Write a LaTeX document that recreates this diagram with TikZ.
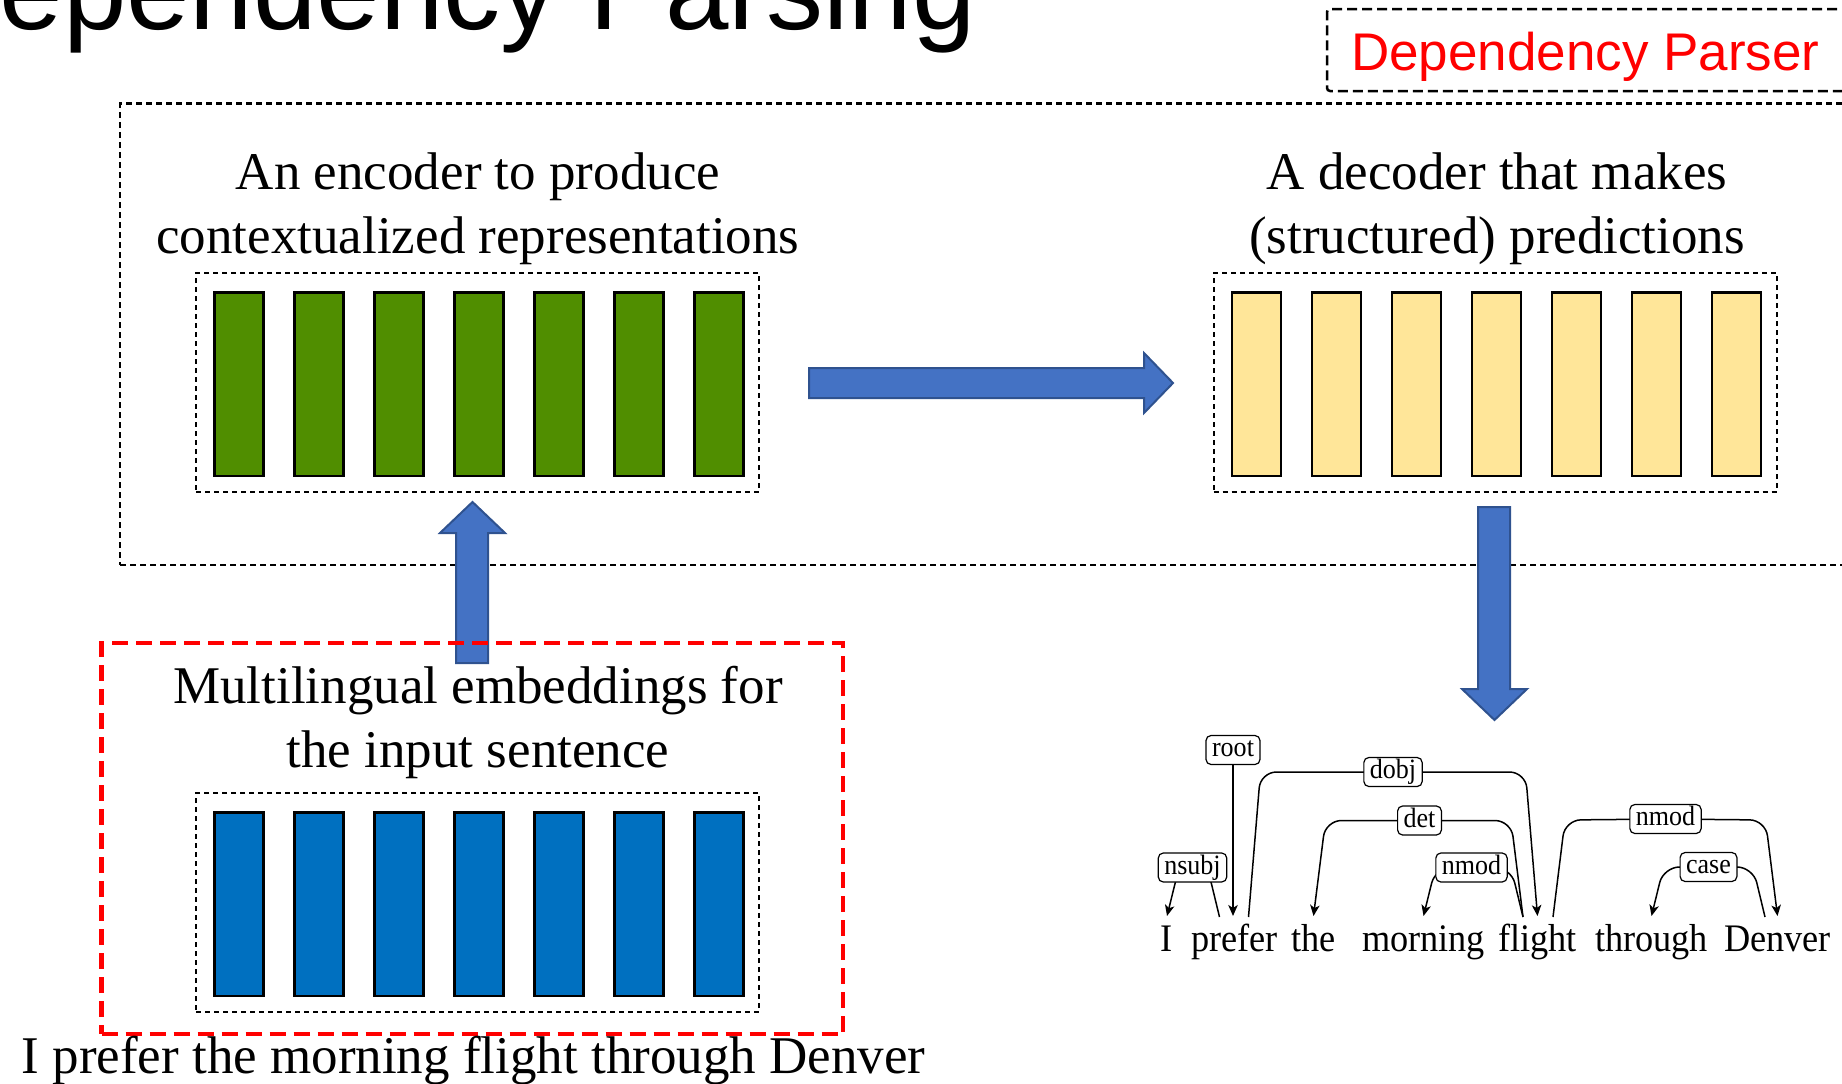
\documentclass[tikz,border=0pt]{standalone}
\usepackage{fontspec}
\setmainfont{Liberation Serif}
\newfontfamily\sansf{Liberation Sans}
\newfontfamily\depfont{Liberation Serif}[FakeStretch=0.93]
\usetikzlibrary{arrows.meta,calc,backgrounds}
\definecolor{encgreen}{RGB}{80,142,0}
\definecolor{decyellow}{RGB}{255,230,153}
\definecolor{embblue}{RGB}{0,112,192}
\definecolor{arrowfill}{RGB}{68,114,196}
\definecolor{arrowline}{RGB}{47,82,143}
\begin{document}
\begin{tikzpicture}[x=1pt,y=-1pt,
  txt/.style={font=\fontsize{53}{63.5}\selectfont, align=center, inner sep=0pt},
  cont/.style={draw=black, line width=2pt, dash pattern=on 5pt off 4pt, minimum width=563pt, minimum height=219pt, inner sep=0pt},
  vbar/.style={draw=black, line width=2.5pt, minimum width=49pt, minimum height=183.5pt, inner sep=0pt, anchor=north west},
  blockarrow/.style={fill=arrowfill, draw=arrowline, line width=2pt, line join=miter},
  word/.style={font=\depfont\fontsize{39}{40}\selectfont, anchor=base, inner sep=0pt},
  deplabel/.style={draw=black, line width=1.2pt, rounded corners=5pt, fill=white, font=\depfont\fontsize{28}{30}\selectfont, inner xsep=6pt, inner ysep=2pt, text height=19pt, text depth=6pt},
  depedge/.style={line width=1.5pt, rounded corners=16pt},
  deparrow/.style={depedge, -{Stealth[length=11pt,width=9.5pt,inset=3pt]}}
]
\useasboundingbox (0,0) rectangle (1842,1084);

% title (partly outside the page, as in the slide)
\node[font=\sansf\fontsize{114}{120}\selectfont, anchor=base east, inner sep=0pt] (title) at (976,29) {Dependency Parsing};

% parser outer box
\node[draw=black, line width=2.2pt, dash pattern=on 6pt off 4pt, minimum width=1750pt, minimum height=461.5pt, inner sep=0pt] (parserbox) at (995,334.25) {};
\node[draw=black, line width=2.5pt, dash pattern=on 10pt off 5pt, rounded corners=3pt, minimum width=543pt, minimum height=82pt, inner sep=0pt] (dpbox) at (1598.5,50) {};
\node[font=\sansf\fontsize{53}{60}\selectfont, text=red, anchor=base west, inner sep=0pt] (dptext) at (1351,70) {Dependency Parser};

% encoder
\node[txt, anchor=base] (enctext) at (478,253) {An encoder to produce\\contextualized representations};
\node[cont] (enc) at (477.5,382.5) {};
\foreach \i in {0,...,6} {
  \node[vbar, fill=encgreen] (enc\i) at ({213+80*\i},291.25) {};
}

% decoder
\node[txt, anchor=base] (dectext) at (1497,253) {A decoder that makes\\(structured) predictions};
\node[cont] (dec) at (1495,382.5) {};
\foreach \i in {0,...,6} {
  \node[vbar, fill=decyellow] (dec\i) at ({1230.5+80*\i},291.25) {};
}

% block arrows
\coordinate (harr) at (809,382.5);
\draw[blockarrow] (harr) ++(0,-14.5) -- ++(335,0) -- ++(0,-15) -- ++(29,30) -- ++(-29,30) -- ++(0,-15) -- ++(-335,0) -- cycle;
\coordinate (uarr) at (472,663);
\draw[blockarrow] (uarr) ++(-16,0) -- ++(0,-130) -- ++(-16,0) -- ++(32.5,-31) -- ++(32.5,31) -- ++(-17,0) -- ++(0,130) -- cycle;
\coordinate (darr) at (1494,507);
\draw[blockarrow] (darr) ++(-16,0) -- ++(0,182) -- ++(-16,0) -- ++(32.5,31) -- ++(32.5,-31) -- ++(-17,0) -- ++(0,-182) -- cycle;

% embeddings
\node[draw=red, line width=4.5pt, dash pattern=on 16pt off 8pt, minimum width=741.5pt, minimum height=391pt, inner sep=0pt] (embbox) at (472.25,838.5) {};
\node[txt, anchor=base] (embtext) at (478,767) {Multilingual embeddings for\\the input sentence};
\node[cont] (emb) at (477.5,902.5) {};
\foreach \i in {0,...,6} {
  \node[vbar, fill=embblue] (emb\i) at ({213+80*\i},811.25) {};
}
\node[font=\fontsize{53}{60}\selectfont, anchor=base, inner sep=0pt] (sentence) at (473.5,1073) {I prefer the morning flight through Denver};

% dependency tree
\node[word] (w1) at (1167,951) {I};
\node[word] (w2) at (1234.5,951) {prefer};
\node[word] (w3) at (1313.5,951) {the};
\node[word] (w4) at (1423.5,951) {morning};
\node[word] (w5) at (1537.5,951) {flight};
\node[word] (w6) at (1651.5,951) {through};
\node[word] (w7) at (1777.5,951) {Denver};

\node[deplabel] (lroot) at (1233,750) {root};
\node[deplabel] (lnsubj) at (1192.5,867.5) {nsubj};
\node[deplabel] (ldobj) at (1393,772) {dobj};
\node[deplabel] (ldet) at (1419.5,820.5) {det};
\node[deplabel] (lnmodA) at (1471.5,867.5) {nmod};
\node[deplabel] (lnmodB) at (1665.5,819) {nmod};
\node[deplabel] (lcase) at (1708.5,867) {case};

\begin{scope}[on background layer]
\draw[deparrow] (lroot.center) -- ($(w2.base)+(-1.5,-35)$);
\draw[deparrow] ($(w2.base)+(-15,-34)$) -- ($(w2.base)+(-27,-83.5)$) -- (lnsubj.center) -- ($(w1.base)+(12,-83.5)$) -- ($(w1.base)+(0,-35)$);
\draw[deparrow] ($(w2.base)+(14,-34)$) -- ($(w2.base)+(26,-179)$) -- (ldobj.center) -- ($(w5.base)+(-12,-179)$) -- ($(w5.base)+(0,-35)$);
\draw[deparrow] ($(w5.base)+(-14.5,-34)$) -- ($(w5.base)+(-26.5,-130.5)$) -- (ldet.center) -- ($(w3.base)+(12,-130.5)$) -- ($(w3.base)+(0,-35)$);
\draw[deparrow] ($(w5.base)+(-14.5,-34)$) -- ($(w5.base)+(-26.5,-83.5)$) -- (lnmodA.center) -- ($(w4.base)+(12,-83.5)$) -- ($(w4.base)+(0,-35)$);
\draw[deparrow] ($(w5.base)+(15.5,-34)$) -- ($(w5.base)+(27.5,-131)$) -- (lnmodB.center) -- ($(w7.base)+(-12,-131)$) -- ($(w7.base)+(0,-35)$);
\draw[deparrow] ($(w7.base)+(-12.5,-34)$) -- ($(w7.base)+(-24.5,-84)$) -- (lcase.center) -- ($(w6.base)+(12,-84)$) -- ($(w6.base)+(0,-35)$);
\end{scope}
\end{tikzpicture}
\end{document}
